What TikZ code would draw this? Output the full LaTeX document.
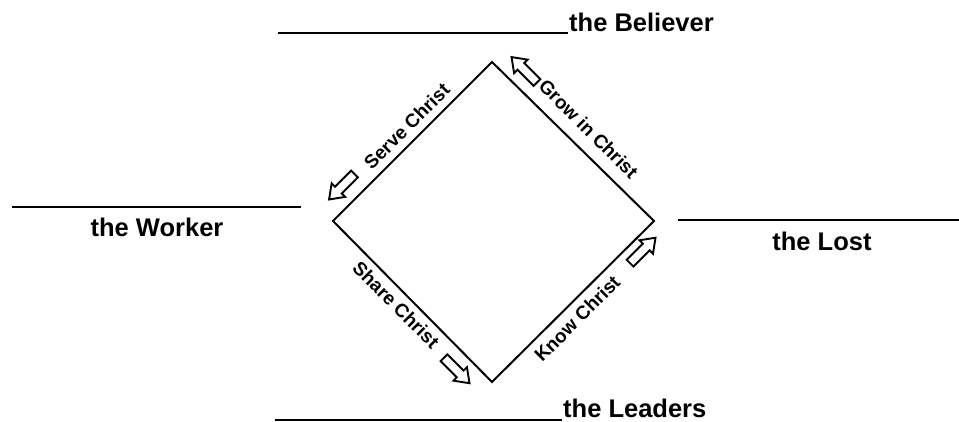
\documentclass[tikz,border=0pt]{standalone}
\usepackage{fontspec}
\setmainfont{Liberation Sans}
\usetikzlibrary{calc,shapes.arrows}
\begin{document}
\begin{tikzpicture}[x=1pt,y=1pt,
  edge/.style={line width=2pt,line join=miter},
  blank/.style={line width=2pt},
  big/.style={font=\bfseries\fontsize{25.5}{28}\selectfont,inner sep=0pt},
  lab/.style={font=\bfseries\fontsize{19}{21}\selectfont,inner sep=0pt},
  barrow/.style={draw,line width=1.9pt,fill=white,shape=single arrow,inner xsep=0pt,inner ysep=3.8pt,
     minimum height=36pt,single arrow head extend=4.8pt,single arrow tip angle=72,single arrow head indent=0pt}]
\useasboundingbox (0,0) rectangle (959,421);
% diamond
\coordinate (T) at (492,359);
\coordinate (L) at (333,200);
\coordinate (R) at (654,200);
\coordinate (B) at (492,39);
\draw[edge] (L) -- (T) -- (R) -- (B) -- cycle;
% blanks and names
\coordinate (bl1) at (278,388); \coordinate (bl2) at (568,388);
\draw[blank] (bl1) -- (bl2);
\node[big,anchor=base west] (believer) at (569,389) {the Believer};
\coordinate (wk1) at (12,214); \coordinate (wk2) at (301,214);
\draw[blank] (wk1) -- (wk2);
\node[big,anchor=base] (worker) at (157,184) {the Worker};
\coordinate (ls1) at (678,201); \coordinate (ls2) at (959,201);
\draw[blank] (ls1) -- (ls2);
\node[big,anchor=base] (lost) at (822,171) {the Lost};
\coordinate (ld1) at (275,1.5); \coordinate (ld2) at (562,1.5);
\draw[blank] (ld1) -- (ld2);
\node[big,anchor=base west] (leaders) at (563,4) {the Leaders};
% edge labels
\node[lab,rotate=45] (serve) at ($(L)!0.53!(T)!15pt!90:(T)$) {Serve Christ};
\node[lab,rotate=-45] (grow) at ($(T)!0.51!(R)!20pt!90:(R)$) {Grow in Christ};
\node[lab,rotate=-45] (share) at ($(L)!0.46!(B)!14pt!-90:(B)$) {Share Christ};
\node[lab,rotate=45] (know) at ($(B)!0.46!(R)!15pt!-90:(R)$) {Know Christ};
% arrows
\node[barrow,rotate=225] (a1) at ($(L)!0.15!(T)!18pt!90:(T)$) {};
\node[barrow,rotate=135] (a2) at ($(T)!0.14!(R)!17pt!90:(R)$) {};
\node[barrow,rotate=-45] (a3) at ($(L)!0.84!(B)!17pt!-90:(B)$) {};
\node[barrow,rotate=45] (a4) at ($(B)!0.86!(R)!13pt!-90:(R)$) {};
\end{tikzpicture}
\end{document}
